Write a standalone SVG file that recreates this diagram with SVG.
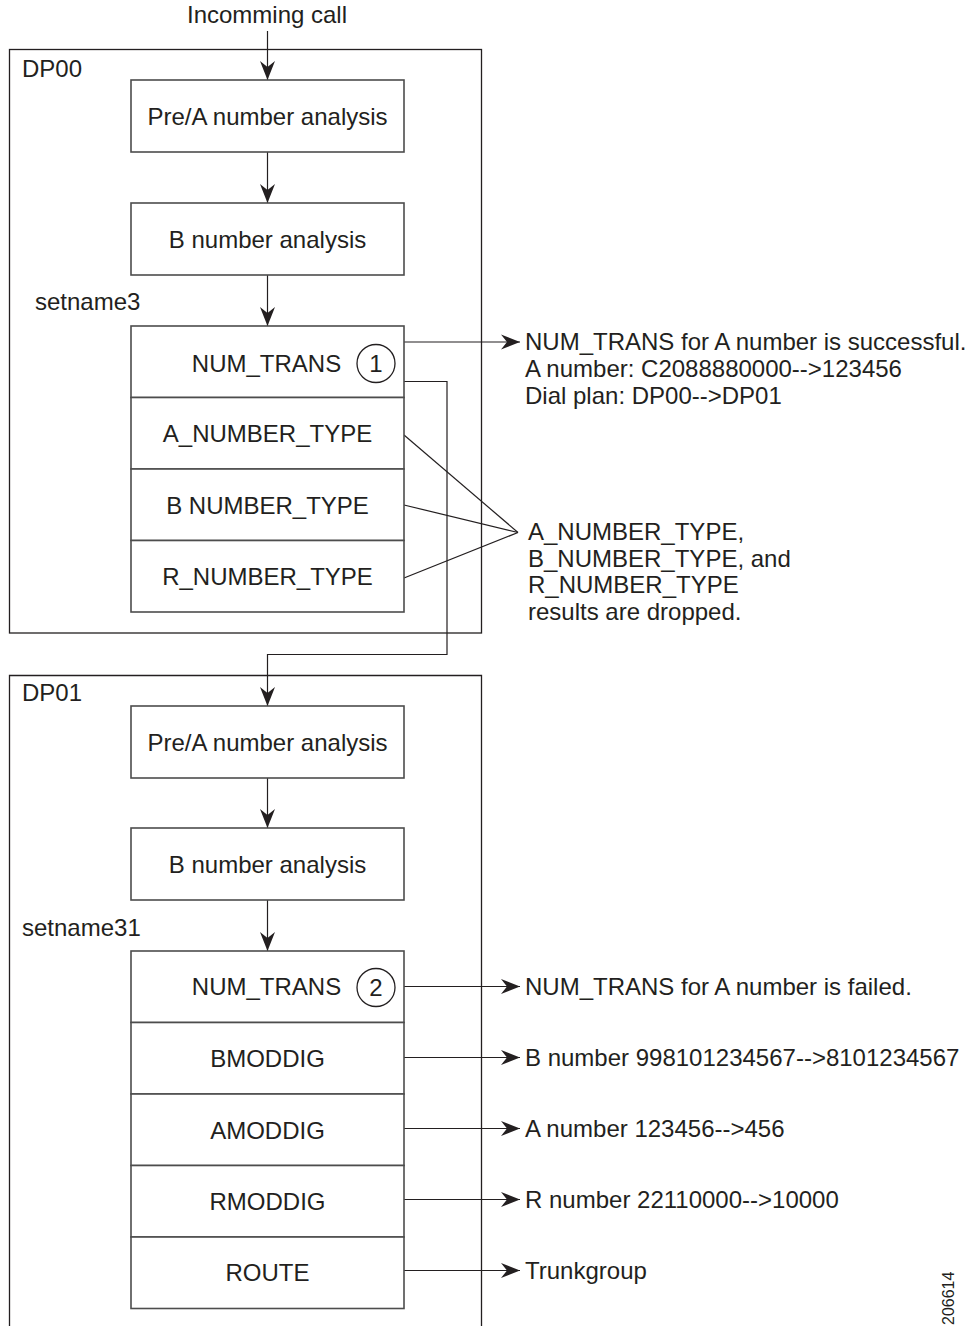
<svg xmlns="http://www.w3.org/2000/svg" width="969" height="1326" viewBox="0 0 969 1326">
<style>
text{font-family:"Liberation Sans",Arial,Helvetica,sans-serif;font-size:24px;fill:#231f20}
.c{text-anchor:middle}
.box{fill:#fff;stroke:#4d4d4d;stroke-width:1.6}
.dp{fill:none;stroke:#231f20;stroke-width:1.3}
.ln{fill:none;stroke:#231f20;stroke-width:1.2}
.arr{fill:none;stroke:#231f20;stroke-width:1.2;marker-end:url(#ah)}
.circ{fill:#fff;stroke:#231f20;stroke-width:1.3}
</style>
<defs>
<marker id="ah" markerUnits="userSpaceOnUse" markerWidth="22" markerHeight="18" viewBox="-20 -9 22 18" refX="0" refY="0" orient="auto">
<path d="M0,0 L-19,-7.5 L-13,0 L-19,7.5 Z" fill="#231f20"/>
</marker>
</defs>

<g id="dp00">
<rect class="dp" x="9.5" y="49.5" width="472" height="583.5"/>
<text x="22" y="77">DP00</text>
</g>
<g id="dp01">
<path class="dp" d="M9.5,1326 V675.5 H481.5 V1326"/>
<text x="22" y="701">DP01</text>
</g>

<text id="incoming" class="c" x="267" y="23">Incomming call</text>
<text id="setname3" x="35" y="310">setname3</text>
<text id="setname31" x="22" y="936">setname31</text>

<g id="connectors">
<line class="arr" x1="267.5" y1="31" x2="267.5" y2="80"/>
<line class="arr" x1="267.5" y1="152" x2="267.5" y2="203"/>
<line class="arr" x1="267.5" y1="275" x2="267.5" y2="326"/>
<polyline class="arr" points="404,381.5 447,381.5 447,654.5 267.5,654.5 267.5,706"/>
<line class="arr" x1="404" y1="342" x2="520" y2="342"/>
<line class="ln" x1="404" y1="435" x2="518" y2="532.5"/>
<line class="ln" x1="404" y1="505" x2="518" y2="532.5"/>
<line class="ln" x1="404" y1="578" x2="518" y2="532.5"/>
<line class="arr" x1="267.5" y1="778" x2="267.5" y2="828"/>
<line class="arr" x1="267.5" y1="900" x2="267.5" y2="951"/>
<line class="arr" x1="404" y1="986.5" x2="520" y2="986.5"/>
<line class="arr" x1="404" y1="1057.5" x2="520" y2="1057.5"/>
<line class="arr" x1="404" y1="1128.5" x2="520" y2="1128.5"/>
<line class="arr" x1="404" y1="1199.5" x2="520" y2="1199.5"/>
<line class="arr" x1="404" y1="1270.5" x2="520" y2="1270.5"/>
</g>

<g id="preA0">
<rect class="box" x="131" y="80" width="273" height="72"/>
<text class="c" x="267.5" y="125">Pre/A number analysis</text>
</g>
<g id="bnum0">
<rect class="box" x="131" y="203" width="273" height="72"/>
<text class="c" x="267.5" y="248">B number analysis</text>
</g>
<g id="numtrans1">
<rect class="box" x="131" y="326" width="273" height="71.5"/>
<text class="c" x="266.5" y="372">NUM_TRANS</text>
<circle class="circ" cx="376" cy="363.5" r="19"/>
<text class="c" x="376" y="372">1</text>
</g>
<g id="antype">
<rect class="box" x="131" y="397.5" width="273" height="71.5"/>
<text class="c" x="267.5" y="442">A_NUMBER_TYPE</text>
</g>
<g id="bntype">
<rect class="box" x="131" y="469" width="273" height="71.5"/>
<text class="c" x="267.5" y="513.5">B NUMBER_TYPE</text>
</g>
<g id="rntype">
<rect class="box" x="131" y="540.5" width="273" height="71.5"/>
<text class="c" x="267.5" y="585">R_NUMBER_TYPE</text>
</g>

<g id="preA1">
<rect class="box" x="131" y="706" width="273" height="72"/>
<text class="c" x="267.5" y="751">Pre/A number analysis</text>
</g>
<g id="bnum1">
<rect class="box" x="131" y="828" width="273" height="72"/>
<text class="c" x="267.5" y="873">B number analysis</text>
</g>
<g id="numtrans2">
<rect class="box" x="131" y="951" width="273" height="71.5"/>
<text class="c" x="266.5" y="995">NUM_TRANS</text>
<circle class="circ" cx="376" cy="987.5" r="19"/>
<text class="c" x="376" y="996">2</text>
</g>
<g id="bmoddig">
<rect class="box" x="131" y="1022.5" width="273" height="71.5"/>
<text class="c" x="267.5" y="1066.5">BMODDIG</text>
</g>
<g id="amoddig">
<rect class="box" x="131" y="1094" width="273" height="71.5"/>
<text class="c" x="267.5" y="1138.5">AMODDIG</text>
</g>
<g id="rmoddig">
<rect class="box" x="131" y="1165.5" width="273" height="71.5"/>
<text class="c" x="267.5" y="1210">RMODDIG</text>
</g>
<g id="route">
<rect class="box" x="131" y="1237" width="273" height="71.5"/>
<text class="c" x="267.5" y="1281">ROUTE</text>
</g>

<g id="note1">
<text x="525" y="350">NUM_TRANS for A number is successful.</text>
<text x="525" y="377">A number: C2088880000--&gt;123456</text>
<text x="525" y="404">Dial plan: DP00--&gt;DP01</text>
</g>
<g id="note2">
<text x="528" y="540">A_NUMBER_TYPE,</text>
<text x="528" y="567">B_NUMBER_TYPE, and</text>
<text x="528" y="593">R_NUMBER_TYPE</text>
<text x="528" y="620">results are dropped.</text>
</g>
<g id="notes3">
<text x="525" y="995">NUM_TRANS for A number is failed.</text>
<text x="525" y="1066">B number 998101234567--&gt;8101234567</text>
<text x="525" y="1137">A number 123456--&gt;456</text>
<text x="525" y="1208">R number 22110000--&gt;10000</text>
<text x="525" y="1279">Trunkgroup</text>
</g>
<text id="figid" transform="translate(954,1325) rotate(-90)" style="font-size:16px">206614</text>
</svg>
